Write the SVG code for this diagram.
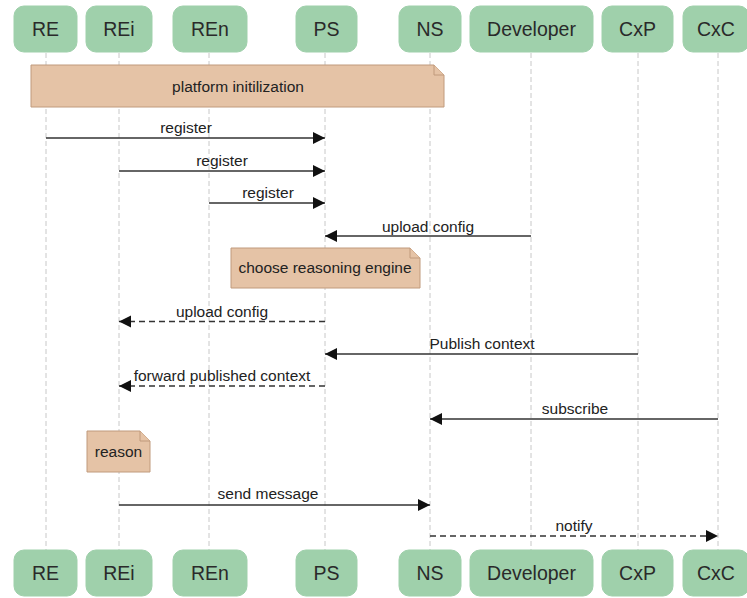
<svg xmlns="http://www.w3.org/2000/svg" width="747" height="598" viewBox="0 0 747 598">
<style>
.box{fill:#9fd0ab;stroke:#9fd0ab;stroke-width:1}
.pt{font-family:"Liberation Sans",Arial,sans-serif;font-size:19.5px;fill:#2a2a2a;text-anchor:middle}
.life{stroke:#c8c8c8;stroke-width:1;stroke-dasharray:5 3;fill:none}
.note{fill:#e5c3a6;stroke:#c09a7c;stroke-width:1}
.nt{font-family:"Liberation Sans",Arial,sans-serif;font-size:15.5px;fill:#222;text-anchor:middle}
.msg{stroke:#333;stroke-width:1.5;fill:none}
.dash{stroke-dasharray:6 4}
.ml{font-family:"Liberation Sans",Arial,sans-serif;font-size:15.5px;fill:#222;text-anchor:middle}
</style>
<defs>
<marker id="ah" markerUnits="userSpaceOnUse" markerWidth="13" markerHeight="13" viewBox="0 0 13 13" refX="12" refY="6.5" orient="auto">
<path d="M0,0.5 L12,6.5 L0,12.5 z" fill="#111" stroke="none"/>
</marker>
</defs>
<rect width="747" height="598" fill="#ffffff"/>
<g id="lifelines">
<line class="life" x1="46" y1="53" x2="46" y2="550"/>
<line class="life" x1="119" y1="53" x2="119" y2="550"/>
<line class="life" x1="209" y1="53" x2="209" y2="550"/>
<line class="life" x1="325" y1="53" x2="325" y2="550"/>
<line class="life" x1="430" y1="53" x2="430" y2="550"/>
<line class="life" x1="531" y1="53" x2="531" y2="550"/>
<line class="life" x1="638" y1="53" x2="638" y2="550"/>
<line class="life" x1="718" y1="53" x2="718" y2="550"/>
</g>
<g id="RE"><rect class="box" x="14" y="6" width="63" height="46" rx="10"/><text class="pt" x="45.5" y="36">RE</text>
<rect class="box" x="14" y="550" width="63" height="46" rx="10"/><text class="pt" x="45.5" y="580">RE</text></g>
<g id="REi"><rect class="box" x="86" y="6" width="66" height="46" rx="10"/><text class="pt" x="119" y="36">REi</text>
<rect class="box" x="86" y="550" width="66" height="46" rx="10"/><text class="pt" x="119" y="580">REi</text></g>
<g id="REn"><rect class="box" x="173" y="6" width="74" height="46" rx="10"/><text class="pt" x="210" y="36">REn</text>
<rect class="box" x="173" y="550" width="74" height="46" rx="10"/><text class="pt" x="210" y="580">REn</text></g>
<g id="PS"><rect class="box" x="296" y="6" width="61" height="46" rx="10"/><text class="pt" x="326.5" y="36">PS</text>
<rect class="box" x="296" y="550" width="61" height="46" rx="10"/><text class="pt" x="326.5" y="580">PS</text></g>
<g id="NS"><rect class="box" x="399" y="6" width="62" height="46" rx="10"/><text class="pt" x="430" y="36">NS</text>
<rect class="box" x="399" y="550" width="62" height="46" rx="10"/><text class="pt" x="430" y="580">NS</text></g>
<g id="Developer"><rect class="box" x="470" y="6" width="123" height="46" rx="10"/><text class="pt" x="531.5" y="36">Developer</text>
<rect class="box" x="470" y="550" width="123" height="46" rx="10"/><text class="pt" x="531.5" y="580">Developer</text></g>
<g id="CxP"><rect class="box" x="602" y="6" width="71" height="46" rx="10"/><text class="pt" x="637.5" y="36">CxP</text>
<rect class="box" x="602" y="550" width="71" height="46" rx="10"/><text class="pt" x="637.5" y="580">CxP</text></g>
<g id="CxC"><rect class="box" x="683" y="6" width="66" height="46" rx="10"/><text class="pt" x="716" y="36">CxC</text>
<rect class="box" x="683" y="550" width="66" height="46" rx="10"/><text class="pt" x="716" y="580">CxC</text></g>
<g id="note-init"><path class="note" d="M31,65 H434 L444,75 V107 H31 Z"/><path class="note" d="M434,65 V75 H444" fill="none"/><text class="nt" x="238" y="92">platform initilization</text></g>
<g id="note-choose"><path class="note" d="M231,248 H410 L420,258 V288 H231 Z"/><path class="note" d="M410,248 V258 H420" fill="none"/><text class="nt" x="325" y="273">choose reasoning engine</text></g>
<g id="note-reason"><path class="note" d="M87,431 H140 L150,441 V472 H87 Z"/><path class="note" d="M140,431 V441 H150" fill="none"/><text class="nt" x="118.5" y="457">reason</text></g>
<g id="connectors">
<line class="msg" x1="46" y1="138" x2="325" y2="138" marker-end="url(#ah)"/>
<text class="ml" x="186" y="133">register</text>
<line class="msg" x1="119" y1="171" x2="325" y2="171" marker-end="url(#ah)"/>
<text class="ml" x="222" y="166">register</text>
<line class="msg" x1="209" y1="203" x2="325" y2="203" marker-end="url(#ah)"/>
<text class="ml" x="268" y="198">register</text>
<line class="msg" x1="531" y1="236" x2="325" y2="236" marker-end="url(#ah)"/>
<text class="ml" x="428" y="232">upload config</text>
<line class="msg dash" x1="325" y1="321.5" x2="119" y2="321.5" marker-end="url(#ah)"/>
<text class="ml" x="222" y="317">upload config</text>
<line class="msg" x1="638" y1="354" x2="325" y2="354" marker-end="url(#ah)"/>
<text class="ml" x="482" y="349">Publish context</text>
<line class="msg dash" x1="325" y1="386" x2="119" y2="386" marker-end="url(#ah)"/>
<text class="ml" x="222" y="381">forward published context</text>
<line class="msg" x1="718" y1="419" x2="430" y2="419" marker-end="url(#ah)"/>
<text class="ml" x="575" y="414">subscribe</text>
<line class="msg" x1="119" y1="505" x2="430" y2="505" marker-end="url(#ah)"/>
<text class="ml" x="268" y="499">send message</text>
<line class="msg dash" x1="430" y1="536" x2="718" y2="536" marker-end="url(#ah)"/>
<text class="ml" x="574" y="531">notify</text>
</g>
</svg>
